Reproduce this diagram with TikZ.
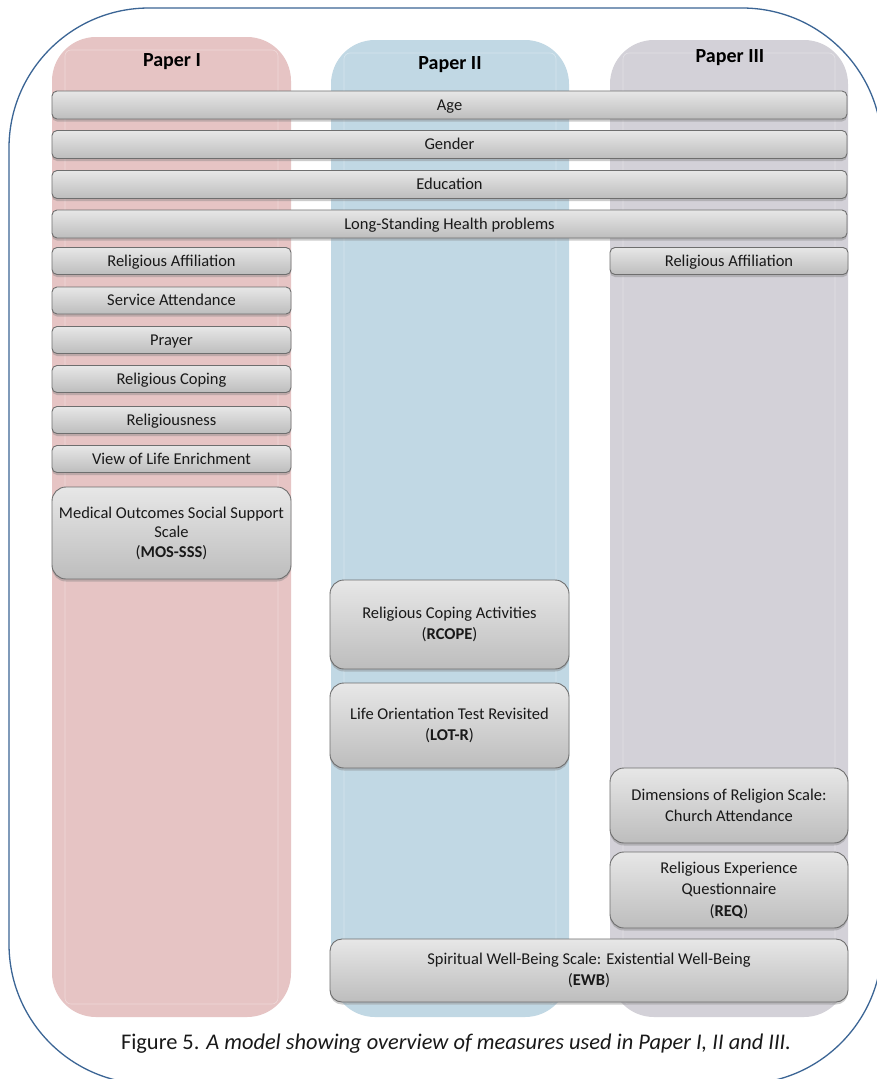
\documentclass[tikz,border=0pt]{standalone}
\usepackage{fontspec}
\setmainfont{Carlito}
\usetikzlibrary{shadows}

\definecolor{frameblue}{HTML}{3B6595}
\definecolor{colpink}{HTML}{E6C4C4}
\definecolor{colblue}{HTML}{C1D8E4}
\definecolor{colgray}{HTML}{D3D1D8}
\definecolor{boxtop}{HTML}{E7E7E7}
\definecolor{boxbot}{HTML}{BDBDBD}
\definecolor{boxline}{HTML}{6E6E6E}

\begin{document}
\begin{tikzpicture}[x=1pt,y=-1pt,
  measure/.style={draw=boxline, line width=0.9pt, rounded corners=5pt,
    top color=boxtop, bottom color=boxbot,
    drop shadow={opacity=0.4, shadow xshift=0pt, shadow yshift=-2.5pt},
    font=\fontsize{16.5}{21.5}\selectfont, text=black!90, align=center, inner sep=0pt},
  bar/.style={measure, minimum width=795pt, minimum height=28pt, text height=11pt, text depth=1pt},
  single/.style={measure, minimum width=239pt, minimum height=27pt, text height=11pt, text depth=1pt},
  tall/.style={measure, rounded corners=14pt},
  header/.style={font=\fontsize{20}{24}\selectfont\bfseries},
  column/.style={rounded corners=44pt},
  glint/.style={draw=white, draw opacity=0.35, line width=0.6pt, rounded corners=6pt}
]
\useasboundingbox (0,0) rectangle (877,1079);
\clip (0,0) rectangle (877,1079);
\fill[white] (0,0) rectangle (877,1079);

% outer frame
\draw[frameblue, line width=1.3pt, rounded corners=140pt] (9,8) rectangle (882,1084);

% the three paper columns
\fill[colpink, column] (52,37) rectangle (291,1017);
\fill[colblue, column] (331,40) rectangle (569,1017);
\fill[colgray, column] (610,40) rectangle (848,1017);
\draw[glint] (65,50) rectangle (278,1004);
\draw[glint] (344,53) rectangle (556,1004);
\draw[glint] (623,53) rectangle (835,1004);

\node[header] (p1) at (172,62) {Paper I};
\node[header] (p2) at (450,65) {Paper II};
\node[header] (p3) at (730,58) {Paper III};

% measures shared by all papers
\node[bar] (age) at (449.5,105) {Age};
\node[bar] (gender) at (449.5,144.5) {Gender};
\node[bar] (edu) at (449.5,184.5) {Education};
\node[bar] (health) at (449.5,224) {Long-Standing Health problems};

% Paper I
\node[single] (ra1) at (171.5,261) {Religious Affiliation};
\node[single] (sa) at (171.5,300.5) {Service Attendance};
\node[single] (prayer) at (171.5,340) {Prayer};
\node[single] (rc) at (171.5,379) {Religious Coping};
\node[single] (rel) at (171.5,420) {Religiousness};
\node[single] (vle) at (171.5,459) {View of Life Enrichment};
\node[tall, minimum width=239pt, minimum height=92pt, font=\fontsize{16.5}{19.5}\selectfont] (mos) at (171.5,533)
  {Medical Outcomes Social Support\\Scale\\(\textbf{MOS-SSS})};

% Paper II
\node[tall, minimum width=239pt, minimum height=89pt] (rcope) at (449.5,624.5)
  {Religious Coping Activities\\(\textbf{RCOPE})};
\node[tall, minimum width=239pt, minimum height=85pt] (lotr) at (449.5,725.5)
  {Life Orientation Test Revisited\\(\textbf{LOT-R})};

% Paper III
\node[single, minimum width=238pt] (ra3) at (729,261) {Religious Affiliation};
\node[tall, minimum width=238pt, minimum height=75pt] (dim) at (729,805.5)
  {Dimensions of Religion Scale:\\Church Attendance};
\node[tall, minimum width=238pt, minimum height=76pt] (req) at (729,890)
  {Religious Experience\\Questionnaire\\(\textbf{REQ})};

% Papers II and III
\node[tall, rounded corners=12pt, minimum width=518pt, minimum height=63pt] (ewb) at (589,970.5)
  {Spiritual Well-Being Scale: Existential Well-Being\\(\textbf{EWB})};

% caption
\node[font=\fontsize{22.4}{26}\selectfont, text=black!90] (cap) at (456,1044)
  {Figure 5. \textit{A model showing overview of measures used in Paper I, II and III.}};
\end{tikzpicture}
\end{document}
